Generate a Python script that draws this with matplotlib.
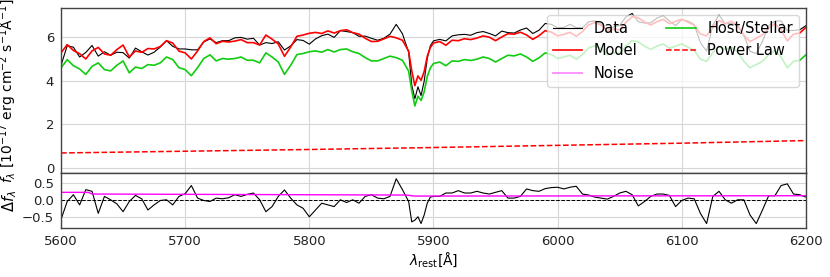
import numpy as np
import matplotlib
matplotlib.use('Agg')
import matplotlib.pyplot as plt

# wavelength grid (finer across the Na D absorption)
wl = np.concatenate([np.arange(5600, 5880, 5.0),
                     np.arange(5880, 5900, 2.5),
                     np.arange(5900, 6200.1, 5.0)])

host = [4.60, 4.98, 4.70, 4.55, 4.30, 4.67, 4.83, 4.52, 4.46, 4.72,
        4.92, 4.37, 4.64, 4.57, 4.75, 4.72, 4.83, 5.10, 4.98, 4.61,
        4.52, 4.24, 4.61, 5.03, 5.20, 4.92, 5.03, 5.00, 5.03, 5.10,
        4.95, 4.95, 4.83, 5.29, 5.10, 4.87, 4.30, 4.72, 5.21, 5.26,
        5.34, 5.38, 5.32, 5.44, 5.33, 5.44, 5.47, 5.34, 5.26, 5.07,
        4.92, 4.92, 5.03, 5.14, 5.07, 4.95,
        4.45, 3.55, 2.85, 3.30, 3.10, 3.50, 4.20, 4.60,
        4.80, 4.87, 4.70, 4.92, 4.90, 4.98, 4.94, 5.00, 5.10, 5.03,
        4.87, 5.03, 5.18, 5.15, 5.24, 5.10, 4.90, 5.06, 5.29, 5.21,
        5.03, 5.10, 5.18, 5.00, 5.21, 5.52, 5.61, 5.49, 5.21, 5.30,
        5.26, 5.60, 5.85, 5.80, 5.60, 5.45, 5.60, 5.70, 5.50, 5.60,
        5.70, 5.55, 5.40, 5.00, 4.90, 5.30, 5.60, 5.45, 5.55, 5.35,
        4.90, 4.60, 4.75, 4.90, 5.20, 5.40, 5.10, 4.60, 4.90, 4.95,
        5.20]

model = [5.29, 5.67, 5.40, 5.25, 5.01, 5.38, 5.54, 5.24, 5.18, 5.44,
         5.65, 5.10, 5.38, 5.31, 5.49, 5.47, 5.58, 5.85, 5.74, 5.37,
         5.29, 5.01, 5.38, 5.81, 5.98, 5.71, 5.82, 5.79, 5.83, 5.90,
         5.76, 5.76, 5.65, 6.11, 5.92, 5.70, 5.13, 5.56, 6.05, 6.11,
         6.19, 6.23, 6.18, 6.30, 6.20, 6.31, 6.35, 6.22, 6.15, 5.96,
         5.81, 5.82, 5.93, 6.05, 5.98, 5.87,
         5.37, 4.47, 3.78, 4.23, 4.03, 4.43, 5.13, 5.54,
         5.74, 5.81, 5.64, 5.87, 5.85, 5.94, 5.90, 5.97, 6.07, 6.01,
         5.85, 6.02, 6.17, 6.15, 6.24, 6.11, 5.91, 6.08, 6.31, 6.24,
         6.07, 6.14, 6.23, 6.05, 6.27, 6.58, 6.68, 6.56, 6.29, 6.38,
         6.35, 6.69, 6.95, 6.90, 6.71, 6.57, 6.72, 6.83, 6.63, 6.74,
         6.84, 6.70, 6.56, 6.16, 6.07, 6.47, 6.78, 6.63, 6.74, 6.55,
         6.10, 5.81, 5.96, 6.12, 6.42, 6.63, 6.34, 5.84, 6.15, 6.20,
         6.46]

resid = [-0.58, -0.05, 0.15, -0.15, 0.30, 0.25, -0.40, 0.10, 0.00, -0.12,
         -0.35, -0.05, 0.13, 0.03, -0.30, -0.15, -0.02, 0.00, -0.15, 0.10,
         0.18, 0.42, 0.05, -0.02, -0.05, 0.05, 0.03, 0.06, 0.15, 0.10,
         0.16, 0.20, 0.00, -0.35, -0.20, 0.10, 0.29, 0.05, -0.15, -0.25,
         -0.50, -0.30, -0.10, -0.15, -0.20, 0.00, -0.08, 0.00, -0.10, 0.10,
         0.15, 0.05, 0.03, 0.10, 0.62, 0.30,
         -0.05, -0.65, -0.60, -0.50, -0.70, -0.45, -0.10, 0.08,
         0.10, 0.10, 0.20, 0.20, 0.27, 0.20, 0.20, 0.25, 0.20, 0.17,
         0.22, 0.27, 0.05, 0.05, 0.10, 0.32, 0.27, 0.25, 0.33, 0.36,
         0.37, 0.32, 0.37, 0.40, 0.17, 0.14, 0.08, 0.05, 0.02, 0.10,
         0.20, 0.25, 0.15, -0.18, -0.05, 0.10, 0.17, 0.17, 0.13, -0.20,
         -0.02, 0.05, 0.03, -0.40, -0.70, 0.10, 0.25, 0.00, -0.10, 0.00,
         0.00, -0.45, -0.70, -0.30, 0.12, 0.12, 0.42, 0.47, 0.17, 0.15,
         0.08]

pl_wl = [5600, 5700, 5800, 5900, 6000, 6100, 6200]
power_law = [0.69, 0.77, 0.85, 0.94, 1.04, 1.14, 1.26]

noise_wl = [5600, 5622, 5625, 5878, 5885, 6200]
noise = [0.22, 0.22, 0.17, 0.14, 0.11, 0.12]


def main():
    data = np.array(model) + np.array(resid)

    fig = plt.figure(figsize=(8.3, 2.77), dpi=100)
    gs = fig.add_gridspec(2, 1, height_ratios=[3, 1], hspace=0,
                          left=0.0735, right=0.971, top=0.971, bottom=0.177)
    ax1 = fig.add_subplot(gs[0])
    ax2 = fig.add_subplot(gs[1], sharex=ax1)

    ax1.plot(wl, data, color='k', lw=0.8, label='Data')
    ax1.plot(wl, model, color='#ff0000', lw=1.2, label='Model')
    # noise only drawn in the residual panel, entry kept for the legend
    ax1.plot([], [], color='#ff00ff', lw=1.5, alpha=0.4, label='Noise')
    ax1.plot(wl, host, color='#11cc11', lw=1.2, label='Host/Stellar')
    ax1.plot(pl_wl, power_law, color='#ff0000', lw=1.1, ls='--', label='Power Law')

    ax2.plot(wl, resid, color='k', lw=0.8)
    ax2.plot(noise_wl, noise, color='#ff00ff', lw=1.0)
    ax2.axhline(0, color='k', lw=0.7, ls='--')

    ax1.set_xlim(5600, 6200)
    ax1.set_ylim(-0.23, 7.35)
    ax2.set_ylim(-0.83, 0.79)
    ax1.set_yticks([0, 2, 4, 6])
    ax2.set_yticks([-0.5, 0.0, 0.5])
    ax2.set_xticks([5600, 5700, 5800, 5900, 6000, 6100, 6200])
    plt.setp(ax1.get_xticklabels(), visible=False)

    for ax in (ax1, ax2):
        ax.grid(True, color='#d6d6d6', lw=0.8)
        ax.set_axisbelow(True)
        ax.tick_params(length=0, labelsize=9.5, pad=5, colors='#222222')
        for sp in ax.spines.values():
            sp.set_color('#444444')
            sp.set_linewidth(1.0)

    ax1.set_ylabel(r'$f_\lambda$ [$10^{-17}$ erg cm$^{-2}$ s$^{-1}$Å$^{-1}$]',
                   fontsize=10)
    ax2.set_ylabel(r'$\Delta f_\lambda$', fontsize=10.5)
    ax1.yaxis.set_label_coords(-0.057, 0.5)
    ax2.yaxis.set_label_coords(-0.057, 0.5)
    ax2.set_xlabel(r'$\lambda_{\rm rest}$[Å]', fontsize=10, labelpad=2)

    ax1.legend(loc='upper right', ncol=2, fontsize=10.5, framealpha=0.75)

    fig.savefig('out.png', dpi=100)


if __name__ == '__main__':
    main()
